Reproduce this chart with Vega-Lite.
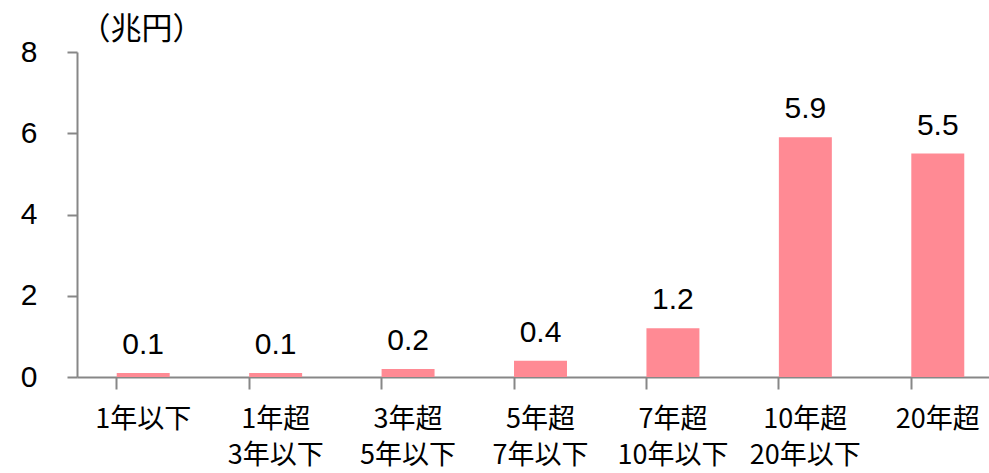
{
  "$schema": "https://vega.github.io/schema/vega-lite/v6.json",
  "width": 927,
  "height": 325,
  "autosize": {"type": "none"},
  "padding": {"left": 77, "top": 52, "right": 0, "bottom": 96},
  "background": "white",
  "data": {
    "values": [
      {"cat": "1年以下", "value": 0.1},
      {"cat": "1年超|3年以下", "value": 0.1},
      {"cat": "3年超|5年以下", "value": 0.2},
      {"cat": "5年超|7年以下", "value": 0.4},
      {"cat": "7年超|10年以下", "value": 1.2},
      {"cat": "10年超|20年以下", "value": 5.9},
      {"cat": "20年超", "value": 5.5}
    ]
  },
  "encoding": {
    "x": {
      "field": "cat",
      "type": "nominal",
      "sort": null,
      "scale": {"paddingInner": 0.6, "paddingOuter": 0.3},
      "axis": {
        "title": null,
        "labelAngle": 0,
        "labelExpr": "split(datum.label, '|')",
        "labelFont": "Noto Sans CJK JP",
        "labelFontSize": 27,
        "labelColor": "black",
        "labelLineHeight": 36,
        "labelPadding": 17,
        "labelBaseline": "top",
        "labelOverlap": false,
        "bandPosition": 0,
        "tickSize": 12,
        "tickColor": "#878787",
        "tickWidth": 2,
        "domainColor": "#878787",
        "domainWidth": 2
      }
    },
    "y": {
      "field": "value",
      "type": "quantitative",
      "scale": {"domain": [0, 8]},
      "axis": {
        "title": "（兆円）",
        "titleAngle": 0,
        "titleAlign": "left",
        "titleBaseline": "middle",
        "titleX": 2,
        "titleY": -23,
        "titleFont": "Noto Sans CJK JP",
        "titleFontSize": 31,
        "titleFontWeight": "normal",
        "titleColor": "black",
        "values": [0, 2, 4, 6, 8],
        "grid": false,
        "labelFont": "Liberation Sans",
        "labelFontSize": 30,
        "labelColor": "black",
        "labelPadding": 30,
        "tickSize": 10,
        "tickColor": "#878787",
        "tickWidth": 2,
        "domainColor": "#878787",
        "domainWidth": 2
      }
    }
  },
  "layer": [
    {"mark": {"type": "bar", "color": "#FF8A94"}},
    {
      "mark": {"type": "text", "baseline": "alphabetic", "dy": -19, "font": "Liberation Sans", "fontSize": 30, "color": "black"},
      "encoding": {"text": {"field": "value", "type": "quantitative", "format": ".1f"}}
    }
  ],
  "config": {"view": {"stroke": null}}
}
